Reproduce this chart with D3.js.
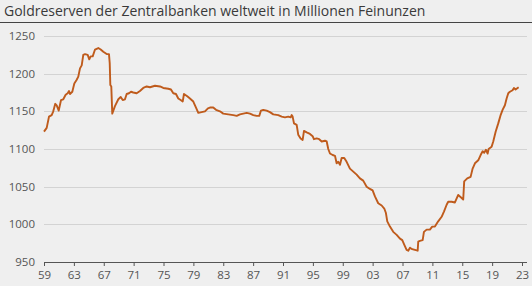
<!DOCTYPE html>
<meta charset="utf-8">
<style>
  body { margin: 0; background: #efefef; }
  .grid line { stroke: #d3d3d3; shape-rendering: crispEdges; }
  .grid path { stroke-width: 0; }
  .axis text, .ylab text { font: 11.5px "Open Sans"; fill: #555; }
  .line { fill: none; stroke: #bf5b1c; stroke-width: 1.9px; stroke-linejoin: round; }
</style>
<body>
<script src="https://d3js.org/d3.v7.min.js"></script>
<script>
// years (fractional) and gold reserves
var years = [1959.00,1959.36,1959.67,1960.03,1960.24,1960.51,1960.70,1960.97,1961.28,1961.58,1961.90,1962.17,1962.35,1962.48,1962.79,
  1963.06,1963.38,1963.59,1963.82,1964.05,1964.26,1964.49,1964.85,1965.06,1965.25,1965.52,1965.83,1966.27,1966.59,1966.94,
  1967.39,1967.70,1967.80,1967.88,1968.01,1968.14,1968.50,1968.95,1969.27,1969.54,1969.84,1970.07,1970.38,1970.65,1970.95,
  1971.41,1971.85,1972.29,1972.75,1973.19,1973.86,1974.53,1974.97,1975.64,1976.00,1976.31,1976.67,1976.98,1977.30,1977.57,
  1977.74,1978.18,1978.54,1978.99,1979.35,1979.66,1980.11,1980.55,1980.95,1981.22,1981.66,1982.03,1982.56,1983.00,1983.67,
  1984.34,1984.80,1985.24,1985.68,1986.14,1986.58,1987.02,1987.47,1987.82,1988.05,1988.36,1988.81,1989.25,1989.70,1990.37,
  1990.82,1991.26,1991.70,1992.03,1992.16,1992.29,1992.47,1992.83,1993.04,1993.36,1993.63,1993.81,1994.17,1994.61,1994.97,
  1995.14,1995.51,1995.85,1996.18,1996.62,1996.85,1997.06,1997.29,1997.65,1997.96,1998.18,1998.40,1998.63,1998.85,1999.20,
  1999.52,1999.96,2000.41,2000.86,2001.30,2001.74,2002.20,2002.64,2003.00,2003.31,2003.75,2004.21,2004.56,2004.78,2004.96,
  2005.32,2005.76,2006.22,2006.66,2006.97,2007.23,2007.55,2007.77,2008.00,2008.30,2008.66,2009.03,2009.11,2009.33,2009.70,
  2009.87,2010.23,2010.67,2010.98,2011.34,2011.78,2012.24,2012.55,2012.91,2013.12,2013.58,2014.02,2014.46,2014.92,2015.13,
  2015.26,2015.67,2016.12,2016.39,2016.70,2017.14,2017.46,2017.73,2017.94,2018.17,2018.40,2018.53,2018.93,2019.15,2019.47,
  2019.82,2020.14,2020.40,2020.71,2020.94,2021.16,2021.38,2021.74,2021.92,2022.14,2022.41,2022.55];
var reserves = [1123,1128,1143,1145,1150,1160,1158,1151,1165,1166,1172,1174,1177,1173,1176,
  1187,1192,1196,1207,1211,1225,1226,1225,1219,1223,1223,1232,1234,1232,1229,
  1226,1226,1214,1185,1183,1147,1157,1166,1169,1165,1166,1173,1174,1176,1175,
  1174,1177,1181,1183,1182,1184,1183,1181,1180,1179,1174,1173,1167,1165,1163,
  1173,1170,1167,1163,1155,1148,1149,1150,1154,1155,1155,1152,1150,1147,1146,
  1145,1144,1146,1147,1148,1147,1145,1144,1144,1151,1152,1151,1149,1146,1145,
  1143,1142,1143,1142,1145,1143,1134,1132,1119,1114,1112,1124,1122,1120,1117,
  1113,1114,1113,1110,1111,1110,1100,1094,1092,1091,1081,1083,1079,1088,1088,
  1083,1074,1070,1066,1061,1058,1050,1047,1045,1037,1028,1025,1021,1015,1004,
  997,990,986,981,979,973,966,965,969,967,966,965,977,978,979,
  990,993,993,997,997,1004,1010,1017,1026,1030,1030,1029,1039,1035,1033,
  1057,1061,1063,1074,1081,1085,1092,1097,1095,1099,1094,1100,1103,1110,1123,
  1134,1145,1152,1158,1167,1174,1176,1178,1181,1179,1181,1182];
var xTicks = d3.range(1959, 2024, 4);
var yTicks = [950, 1000, 1050, 1100, 1150, 1200, 1250];
var title = "Goldreserven der Zentralbanken weltweit in Millionen Feinunzen";

var W = 532, H = 286;
var x = d3.scaleLinear().domain([1959, 2023]).range([44, 522]);
var y = d3.scaleLinear().domain([950, 1250]).range([262, 36]);

var svg = d3.select("body").append("svg")
    .attr("width", W).attr("height", H)
    .style("display", "block");

svg.append("rect").attr("width", W).attr("height", H).attr("fill", "#efefef");

// title + rule
svg.append("text")
    .attr("x", 4).attr("y", 16)
    .style("font", "14px 'Open Sans'")
    .style("fill", "#3a3a3a")
    .text(title);
svg.append("line")
    .attr("x1", 0).attr("x2", W).attr("y1", 22.5).attr("y2", 22.5)
    .attr("stroke", "#444").attr("stroke-width", 1);

// gridlines
svg.append("g")
    .attr("class", "grid")
    .attr("transform", "translate(44,0)")
    .call(d3.axisLeft(y).tickValues(yTicks.slice(1)).tickSize(-483).tickFormat(""));

// y labels
svg.append("g").attr("class", "ylab")
  .selectAll("text").data(yTicks).enter().append("text")
    .attr("x", 35).attr("y", function(d) { return y(d); })
    .attr("dy", "0.36em")
    .attr("text-anchor", "end")
    .text(function(d) { return d; });

// line
var line = d3.line()
    .x(function(d, i) { return x(years[i]); })
    .y(function(d) { return y(d); });
svg.append("path")
    .datum(reserves)
    .attr("class", "line")
    .attr("d", line);

// x axis
var xAxis = svg.append("g")
    .attr("class", "axis")
    .attr("transform", "translate(0,262)")
    .call(d3.axisBottom(x).tickValues(xTicks).tickSize(4).tickSizeOuter(0)
      .tickFormat(function(d) { return String(d).slice(2); }));
xAxis.select(".domain").attr("d", "M44,0.5H527").attr("stroke", "#555");
xAxis.selectAll(".tick line").attr("stroke", "#555");
xAxis.selectAll(".tick text").attr("dy", "0.9em");
</script>
</body>
